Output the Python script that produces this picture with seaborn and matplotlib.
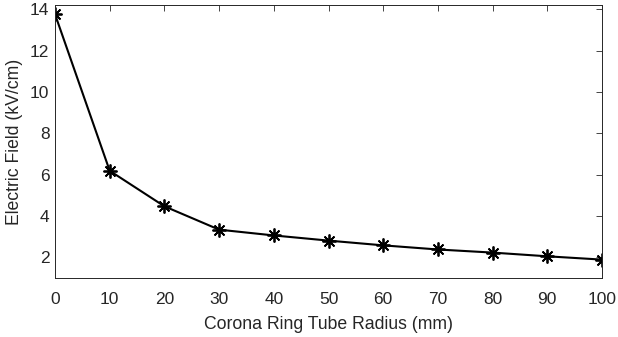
import matplotlib
matplotlib.use("Agg")
import matplotlib.pyplot as plt
import seaborn as sns
import pandas as pd

radius_mm = [0, 10, 20, 30, 40, 50, 60, 70, 80, 90, 100]
field_kv_cm = [13.77, 6.19, 4.47, 3.34, 3.06, 2.81, 2.58, 2.38, 2.23, 2.05, 1.89]
x_ticks = [0, 10, 20, 30, 40, 50, 60, 70, 80, 90, 100]
y_ticks = [2, 4, 6, 8, 10, 12, 14]

sns.set_theme(style="white")
plt.rcParams['font.family'] = ['Liberation Sans', 'DejaVu Sans']

df = pd.DataFrame({"r": radius_mm, "E": field_kv_cm})

fig = plt.figure(figsize=(6.18, 3.37), dpi=100)
ax = fig.add_axes([55/618, 59/337, (602-55)/618, (278-5.3)/337])

sns.lineplot(data=df, x="r", y="E", ax=ax, color="black", linewidth=1.5,
             marker=(8, 2, 0), markersize=10, markeredgewidth=1.3,
             markeredgecolor="black", markerfacecolor="black")

ax.set_xlim(0, 100)
ax.set_ylim(1, 14.2)
ax.set_xticks(x_ticks)
ax.set_yticks(y_ticks)
ax.set_xlabel("Corona Ring Tube Radius (mm)", fontsize=12.7, color="#262626", labelpad=6.5)
ax.set_ylabel("Electric Field (kV/cm)", fontsize=12.7, color="#262626", labelpad=5)
ax.tick_params(direction="in", top=True, right=True, length=4.5, width=0.6,
               colors="#262626", labelsize=12.5)
ax.tick_params(axis="x", pad=10)
ax.tick_params(axis="y", pad=4)
for s in ax.spines.values():
    s.set_visible(True)
    s.set_color("#262626")
    s.set_linewidth(0.7)
ax.grid(False)
ax.set_facecolor("white")

fig.savefig("out.png", dpi=100)
